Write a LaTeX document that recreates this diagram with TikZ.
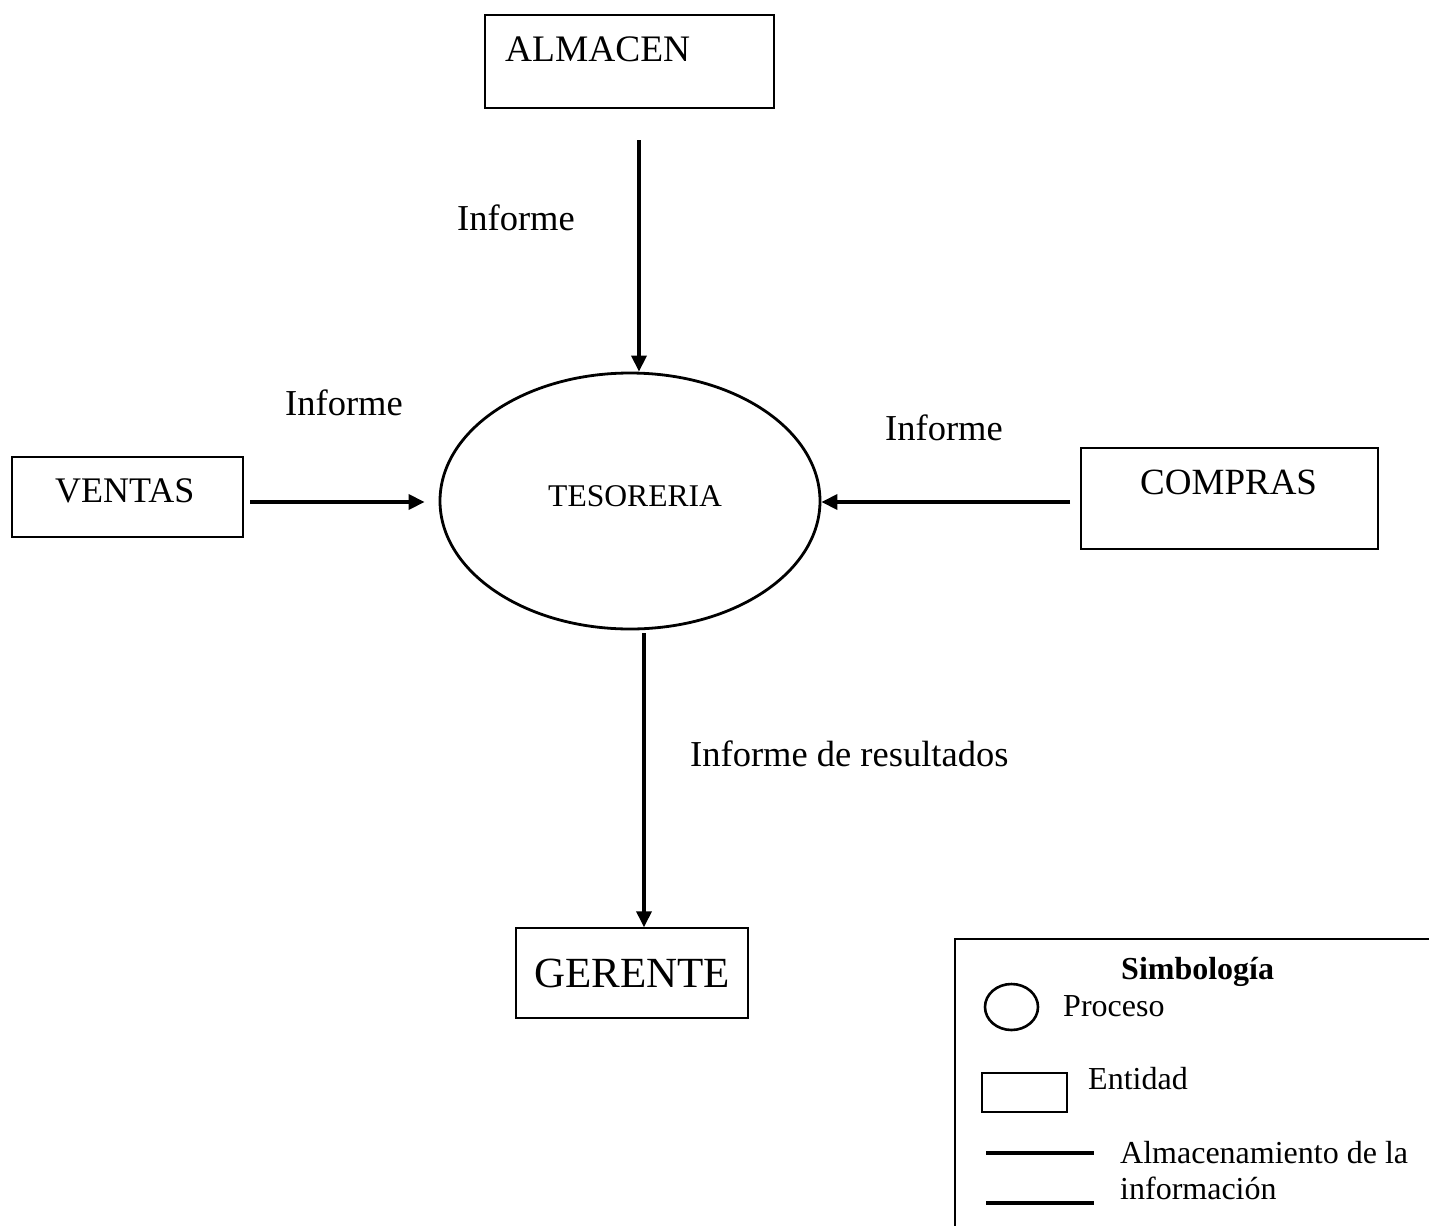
\documentclass[tikz,border=0pt]{standalone}
\usepackage{fontspec}
\setmainfont{Liberation Serif}
\usetikzlibrary{arrows.meta,shapes.geometric}

\tikzset{
  entity/.style={draw, line width=1.4pt, rectangle, inner sep=0pt},
  process/.style={draw, line width=2.8pt, ellipse, inner sep=0pt},
  flow/.style={line width=3.5pt, -{Triangle[length=16pt,width=15pt]}},
  lbl/.style={anchor=base west, inner sep=0pt, font=\fontsize{36.5}{40}\selectfont},
  legtxt/.style={anchor=base west, inner sep=0pt, font=\fontsize{32}{36}\selectfont},
  keyline/.style={line width=4pt}
}

\begin{document}
\begin{tikzpicture}[x=1pt, y=-1pt]
\useasboundingbox (0,0) rectangle (1429,1226);

% central process
\node[process, minimum width=380pt, minimum height=256pt] (tes) at (630,501) {};
\node[anchor=base west, inner sep=0pt, font=\fontsize{31.6}{34}\selectfont] (testxt) at (548,506) {TESORERIA};

% entities
\node[entity, minimum width=289pt, minimum height=93pt] (almacen) at (629.5,61.5) {};
\node[lbl, font=\fontsize{37.4}{40}\selectfont] (almacentxt) at (505,61) {ALMACEN};

\node[entity, minimum width=231pt, minimum height=80pt] (ventas) at (127.5,497) {};
\node[lbl, font=\fontsize{36}{40}\selectfont] (ventastxt) at (55,502) {VENTAS};

\node[entity, minimum width=297pt, minimum height=101pt] (compras) at (1229.5,498.5) {};
\node[lbl, font=\fontsize{37}{40}\selectfont] (comprastxt) at (1140,494) {COMPRAS};

\node[entity, minimum width=232pt, minimum height=90pt] (gerente) at (632,973) {};
\node[anchor=center, inner sep=0pt, font=\fontsize{43}{46}\selectfont] (gerentetxt) at (632,973) {GERENTE};

% data flows
\coordinate (almout) at (639,140);
\coordinate (venout) at (250,502);
\coordinate (comout) at (1070,502);
\coordinate (tesout) at (644,633);

\draw[flow] (almout) -- (almout |- tes.north);
\draw[flow, shorten >=14pt] (venout) -- (venout -| tes.west);
\draw[flow] (comout) -- (comout -| tes.east);
\draw[flow] (tesout) -- (tesout |- gerente.north);

% flow labels
\node[lbl] (inf1) at (457,230) {Informe};
\node[lbl] (inf2) at (285,415) {Informe};
\node[lbl] (inf3) at (885,440) {Informe};
\node[lbl] (inf4) at (690,766) {Informe de resultados};

% key
\draw[line width=1.4pt] (1429,939) -- (955,939) -- (955,1226);
\node[legtxt, font=\fontsize{32}{36}\selectfont\bfseries] (keytitle) at (1121,979) {Simbología};
\node[draw, line width=2.6pt, ellipse, inner sep=0pt, minimum width=53pt, minimum height=46pt] (keyproc) at (1011.5,1007) {};
\node[legtxt] (keyproctxt) at (1063,1016) {Proceso};
\node[entity, minimum width=85pt, minimum height=39pt] (keyent) at (1024.5,1092.5) {};
\node[legtxt] (keyenttxt) at (1088,1089) {Entidad};
\coordinate (k1a) at (986,1153);
\coordinate (k1b) at (1094,1153);
\coordinate (k2a) at (986,1203);
\coordinate (k2b) at (1094,1203);
\draw[keyline] (k1a) -- (k1b);
\draw[keyline] (k2a) -- (k2b);
\node[legtxt] (keystore1) at (1120,1163) {Almacenamiento de la};
\node[legtxt] (keystore2) at (1120,1199) {información};
\end{tikzpicture}
\end{document}
